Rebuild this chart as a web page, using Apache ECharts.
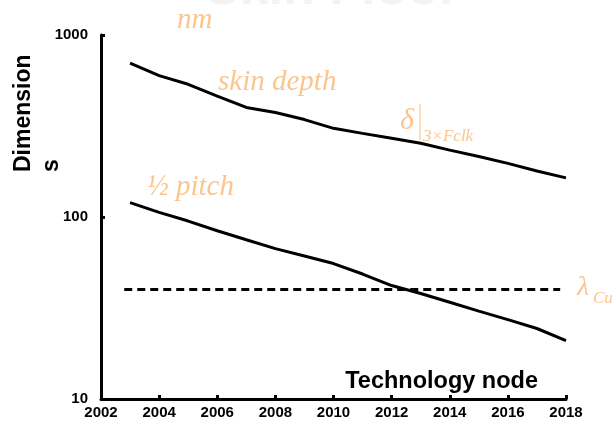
<!DOCTYPE html>
<html>
<head>
<meta charset="utf-8">
<script src="https://cdn.jsdelivr.net/npm/echarts@6/dist/echarts.min.js"></script>
<style>html,body{margin:0;padding:0;background:#fff}#c{width:616px;height:422px}</style>
</head>
<body>
<div id="c"></div>
<script>
const years = [2003,2004,2005,2006,2007,2008,2009,2010,2011,2012,2013,2014,2015,2016,2017,2018];
const skinDepth = [700,598,536,462,400,375,343,307,288,271,254,233,215,197,179,164];
const halfPitch = [120,106,95,84,75,67,61,55.5,48.6,42,38,34,30.4,27.3,24.4,20.9];
const lambdaCuYears = [2002.8, 2017.8];
const lambdaCu = 40;
const xTicks = {min: 2002, max: 2018, interval: 2};
const yTicks = {min: 10, max: 1000};

const orange = '#FCC48E';
const sans = '"Liberation Sans", Arial, Helvetica, sans-serif';
const serif = '"Liberation Serif", "Times New Roman", serif';

// place text by its baseline (mid of em box ~ baseline - 0.34*size)
function serifText(x, baseline, text, size) {
  return {type: 'text', x: x, y: baseline - 0.34 * size,
    style: {text: text, font: 'italic ' + size + 'px ' + serif, fill: orange, align: 'left', verticalAlign: 'middle'}};
}

const chart = echarts.init(document.getElementById('c'), null, {renderer: 'canvas'});
chart.setOption({
  animation: false,
  backgroundColor: '#fff',
  grid: {left: 101, right: 50, top: 35, bottom: 23, containLabel: false},
  xAxis: {
    type: 'value', min: xTicks.min, max: xTicks.max, interval: xTicks.interval,
    axisLine: {show: true, lineStyle: {color: '#000', width: 3}},
    axisTick: {show: true, inside: true, length: 4, lineStyle: {color: '#000', width: 3}},
    axisLabel: {color: '#000', fontFamily: sans, fontWeight: 'bold', fontSize: 15, margin: 6,
      formatter: v => String(v)},
    splitLine: {show: false}
  },
  yAxis: {
    type: 'log', logBase: 10, min: yTicks.min, max: yTicks.max,
    axisLine: {show: true, lineStyle: {color: '#000', width: 3}},
    axisTick: {show: true, inside: true, length: 4, lineStyle: {color: '#000', width: 3}},
    axisLabel: {color: '#000', fontFamily: sans, fontWeight: 'bold', fontSize: 15, margin: 13,
      formatter: v => String(Math.round(v))},
    splitLine: {show: false}
  },
  series: [
    {type: 'line', data: years.map((y,i)=>[y, skinDepth[i]]), showSymbol: false, symbol: 'none',
     lineStyle: {color: '#000', width: 3}},
    {type: 'line', data: years.map((y,i)=>[y, halfPitch[i]]), showSymbol: false, symbol: 'none',
     lineStyle: {color: '#000', width: 3}},
    {type: 'line', data: lambdaCuYears.map(y=>[y, lambdaCu]), showSymbol: false, symbol: 'none',
     lineStyle: {color: '#000', width: 3, type: [8,5]}}
  ],
  graphic: [
    {type: 'text', left: 205, top: -36, z: 0, style: {text: 'Skin Floor', font: 'bold 52px ' + sans, fill: '#f3f3f3'}},
    {type: 'text', x: 38, y: 172, rotation: Math.PI/2, style: {
      text: 'Dimension\ns', font: 'bold 23px ' + sans, fill: '#000', align: 'left', verticalAlign: 'middle', lineHeight: 28}},
    {type: 'text', x: 538, y: 382, style: {text: 'Technology node', font: 'bold 23.5px ' + sans, fill: '#000', align: 'right', verticalAlign: 'middle'}},
    serifText(177, 30, 'nm', 29),
    serifText(218, 92, 'skin depth', 29),
    serifText(147, 197, '\u00BD pitch', 29),
    serifText(400, 131, '\u03B4', 30),
    {type: 'line', shape: {x1: 420, y1: 104, x2: 420, y2: 140}, style: {stroke: orange, lineWidth: 1.2}},
    serifText(423, 142, '3\u00D7Fclk', 17),
    serifText(577, 297, '\u03BB', 28),
    serifText(593, 304, 'Cu', 17)
  ]
});
</script>
</body>
</html>
